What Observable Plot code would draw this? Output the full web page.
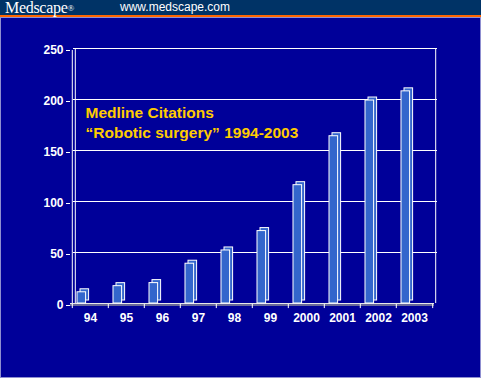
<!DOCTYPE html>
<html>
<head>
<meta charset="utf-8">
<script src="https://cdn.jsdelivr.net/npm/d3@7"></script>
<script src="https://cdn.jsdelivr.net/npm/@observablehq/plot@0.6"></script>
<style>
  html, body { margin: 0; padding: 0; background: #000099; }
  #wrap { width: 481px; height: 378px; position: relative; overflow: hidden; }
  #hdr { height: 15px; background: #003366; border-bottom: 2px solid #FF6600; position: relative; }
  #brand { position: absolute; left: 5px; top: -1px; font-family: "Liberation Serif", "Times New Roman", serif; font-size: 16px; color: #fff; letter-spacing: -0.3px; }
  #brand sup { font-size: 9px; vertical-align: 2px; }
  #url { position: absolute; left: 120px; top: 0px; font-family: "Liberation Sans", Arial, sans-serif; font-size: 12px; color: #fff; }
  #panel { box-sizing: border-box; height: 361px; width: 481px; border: 1px solid #8F8FD0; background: #000099; }
  #panel svg { display: block; }
</style>
</head>
<body>
<div id="wrap">
  <div id="hdr"><span id="brand">Medscape<sup>®</sup></span><span id="url">www.medscape.com</span></div>
  <div id="panel"></div>
</div>
<script>
const years = ["94", "95", "96", "97", "98", "99", "2000", "2001", "2002", "2003"];
const citations = [11, 17, 20, 39, 52, 71, 116, 164, 199, 208];
const yTicks = [0, 50, 100, 150, 200, 250];
const titleLines = ["Medline Citations", "\u201CRobotic surgery\u201D 1994-2003"];

const data = years.map((year, i) => ({year, count: citations[i]}));

const W = 479, H = 359;
const mL = 72, mR = 43, mT = 30, mB = 74;
const bw = (W - mL - mR) / years.length;
const font = "'Liberation Sans', Arial, sans-serif";
const barFill = "#3366CC";

const chart = Plot.plot({
  width: W,
  height: H,
  marginLeft: mL,
  marginRight: mR,
  marginTop: mT,
  marginBottom: mB,
  style: {background: "#000099", color: "white", fontFamily: font},
  x: {type: "band", domain: years, padding: 0, label: null},
  y: {domain: [0, 250], label: null},
  marks: [
    Plot.ruleY(yTicks.filter(t => t > 0), {stroke: "white", strokeWidth: 1}),
    Plot.ruleX([years[0]], {x: d => d, y1: 0, y2: 250, dx: -bw / 2, stroke: "white"}),
    Plot.ruleX([years[years.length - 1]], {x: d => d, y1: 0, y2: 250, dx: bw / 2, stroke: "white"}),
    Plot.ruleX([years[0]], {x: d => d, y1: 0, y2: 250, dx: -bw / 2 - 3, dy: 2, stroke: "white"}),
    Plot.ruleY([0], {dx: -3, dy: 1.5, stroke: "#8c8c9c", strokeWidth: 1.5}),
    Plot.ruleY([0], {dx: -3, stroke: "#e8e8e8", strokeWidth: 1.2}),
    Plot.ruleX(years, {x: d => d, y1: 0, y2: -4, dx: -bw / 2 - 3, dy: 1, stroke: "white"}),
    Plot.ruleX([years[years.length - 1]], {x: d => d, y1: 0, y2: -4, dx: bw / 2 - 3, dy: 1, stroke: "white"}),
    Plot.barY(data, {x: "year", y: "count", insetLeft: 2, insetRight: bw - 11, dx: 3, dy: -3, fill: barFill, stroke: "white", strokeWidth: 1}),
    Plot.barY(data, {x: "year", y: "count", insetLeft: 2, insetRight: bw - 11, fill: barFill, stroke: "white", strokeWidth: 1}),
    Plot.axisY({ticks: yTicks, label: null, tickSize: 4, tickPadding: 3, dx: -3, dy: 2, fontSize: 12, fontWeight: "bold", stroke: "white", fill: "white"}),
    Plot.axisX({label: null, tickSize: 0, tickPadding: 10, dx: -3, fontSize: 12, fontWeight: "bold", fill: "white"}),
    Plot.text([titleLines.join("\n")], {
      frameAnchor: "top-left", text: d => d, dx: 12, dy: 55, lineAnchor: "top",
      lineHeight: 1.3, fontSize: 15.5, fontWeight: "bold", fill: "#FFCC00", textAnchor: "start"
    })
  ]
});
document.getElementById("panel").append(chart);
</script>
</body>
</html>
